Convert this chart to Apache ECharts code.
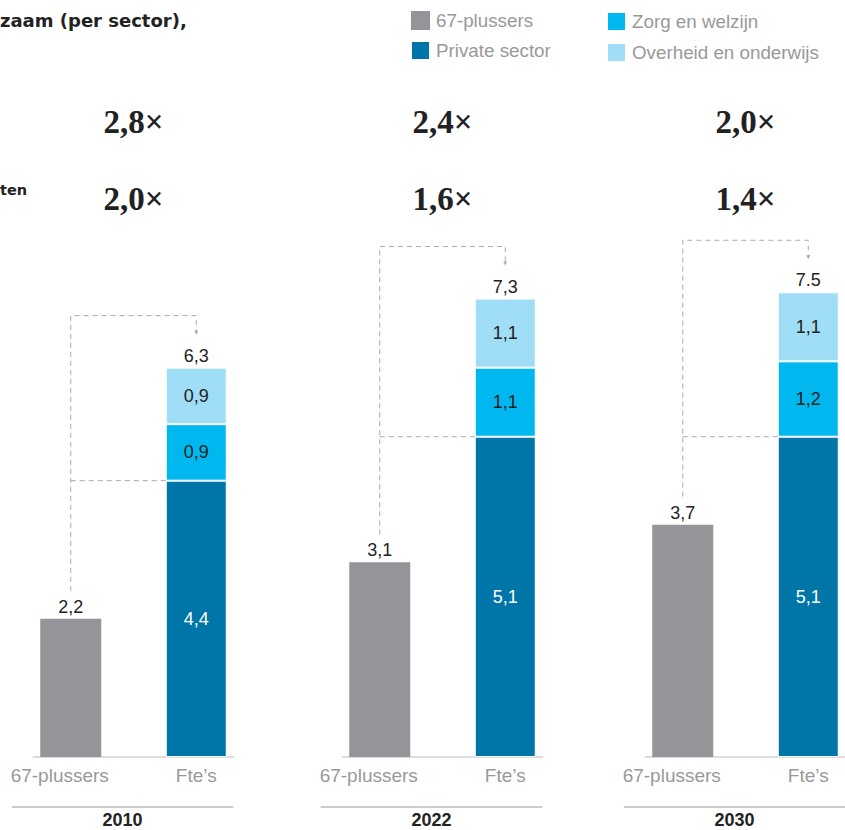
<!DOCTYPE html>
<html>
<head>
<meta charset="utf-8">
<script src="https://cdn.jsdelivr.net/npm/echarts@6/dist/echarts.min.js"></script>
<style>
  html, body { margin: 0; padding: 0; background: #fff; }
  #chart { width: 845px; height: 830px; }
</style>
</head>
<body>
<div id="chart"></div>
<script>
// ---- data ----
const years = ['2010', '2022', '2030'];
const categories = ['67-plussers', 'Fte\u2019s'];
const seniors = [2.2, 3.1, 3.7];
const privateSector = [4.4, 5.1, 5.1];
const careWelfare = [0.9, 1.1, 1.2];
const governmentEducation = [0.9, 1.1, 1.1];
const fteTotalLabels = ['6,3', '7,3', '7.5'];
const ratioAllFte = ['2,8\u00d7', '2,4\u00d7', '2,0\u00d7'];
const ratioPrivateFte = ['2,0\u00d7', '1,6\u00d7', '1,4\u00d7'];
const seriesNames = ['67-plussers', 'Private sector', 'Zorg en welzijn', 'Overheid en onderwijs'];

// ---- style ----
const colors = ['#939598', '#0076a8', '#00b8ef', '#a0ddf6'];
const SANS = '"Liberation Sans", Arial, sans-serif';
const WIDE_SANS = '"DejaVu Sans", "Liberation Sans", sans-serif';
const SERIF = '"Liberation Serif", "DejaVu Serif", serif';
const gridLefts = [8, 317, 620];
const gridWidth = 251;
const BAR_W = 61;

const fmt = v => String(v).replace('.', ',');

const chart = echarts.init(document.getElementById('chart'), null, { renderer: 'svg' });

const grids = [], xAxes = [], yAxes = [], series = [];
years.forEach((y, i) => {
  grids.push({ left: gridLefts[i], width: gridWidth, top: 129, bottom: 73, containLabel: false, outerBoundsMode: 'none' });
  xAxes.push({
    type: 'category', gridIndex: i, data: categories,
    axisLine: { show: false }, axisTick: { show: false },
    axisLabel: {
      interval: 0, hideOverlap: false,
      color: '#999', fontSize: 19, fontFamily: SANS, margin: 9,
      formatter: (v, idx) => idx === 0 ? '{a|' + v + '}' : v,
      rich: { a: { color: '#999', fontSize: 19, fontFamily: SANS, padding: [0, 22, 0, 0] } }
    }
  });
  yAxes.push({ type: 'value', gridIndex: i, min: 0, max: 10, show: false, splitLine: { show: false } });

  const common = { type: 'bar', xAxisIndex: i, yAxisIndex: i, stack: 'panel' + i, barWidth: BAR_W };
  const labelBase = { fontFamily: SANS, fontSize: 18, color: '#222' };
  series.push({
    ...common, name: seriesNames[0], data: [seniors[i], '-'],
    itemStyle: { color: colors[0] },
    label: { show: true, position: 'top', distance: 3, ...labelBase, formatter: p => fmt(p.value) }
  });
  series.push({
    ...common, name: seriesNames[1], data: ['-', privateSector[i]],
    itemStyle: { color: colors[1], borderColor: '#fff', borderWidth: 1 },
    label: { show: true, position: 'inside', ...labelBase, color: '#fff', formatter: p => fmt(p.value) }
  });
  series.push({
    ...common, name: seriesNames[2], data: ['-', careWelfare[i]],
    itemStyle: { color: colors[2], borderColor: '#fff', borderWidth: 1 },
    label: { show: true, position: 'inside', ...labelBase, formatter: p => fmt(p.value) }
  });
  series.push({
    ...common, name: seriesNames[3], data: ['-', governmentEducation[i]],
    itemStyle: { color: colors[3], borderColor: '#fff', borderWidth: 1 },
    label: { show: true, position: 'inside', ...labelBase, formatter: p => fmt(p.value) }
  });
  // total of the Fte stack, written just above the top segment
  series.push({
    ...common, name: 'total' + i, data: ['-', 0],
    itemStyle: { color: 'transparent' },
    label: { show: true, position: 'top', distance: 3, ...labelBase, formatter: () => fteTotalLabels[i] },
    silent: true
  });
});

const legendCommon = {
  orient: 'vertical', top: 11, padding: 0, itemWidth: 19, itemHeight: 19, itemGap: 10,
  icon: 'rect', selectedMode: false,
  textStyle: { color: '#999', fontSize: 18.8, lineHeight: 19, fontFamily: SANS, padding: [0, 0, 0, 1] }
};

chart.setOption({
  animation: false,
  backgroundColor: '#fff',
  color: colors,
  grid: grids,
  xAxis: xAxes,
  yAxis: yAxes,
  legend: [
    { ...legendCommon, left: 410, data: [seriesNames[0], seriesNames[1]] },
    { ...legendCommon, left: 606, data: [seriesNames[2], seriesNames[3]] }
  ],
  series: series
});

// ---- annotations derived from the axes ----
const graphics = [];
const dash = { stroke: '#aaa', lineWidth: 1, lineDash: [5, 4] };

graphics.push({ type: 'text', left: 0, top: 11, style: { text: 'zaam (per sector),', font: 'bold 18px ' + WIDE_SANS, fill: '#222' } });
graphics.push({ type: 'text', left: 0, top: 182, style: { text: 'ten', font: 'bold 14.5px ' + WIDE_SANS, fill: '#222' } });

years.forEach((yr, i) => {
  const px = (c, v) => chart.convertToPixel({ gridIndex: i }, [c, v]);
  const [gx, gy] = px(0, seniors[i]);
  const [fx, base] = px(1, 0);
  const stackTop = privateSector[i] + careWelfare[i] + governmentEducation[i];
  const topY = px(1, stackTop)[1];
  const privY = px(1, privateSector[i])[1];
  const gridCenter = gridLefts[i] + gridWidth / 2;

  // baseline
  graphics.push({ type: 'line', shape: { x1: gx - 38, y1: base, x2: fx + 38, y2: base }, style: { stroke: '#bbb', lineWidth: 1 } });
  // separator + year
  graphics.push({ type: 'line', shape: { x1: gx - 59, y1: 807, x2: fx + 37, y2: 807 }, style: { stroke: '#999', lineWidth: 1 } });
  graphics.push({ type: 'text', x: (gx - 59 + fx + 37) / 2, y: 820, style: { text: yr, font: 'bold 18px ' + SANS, fill: '#222', textAlign: 'center', textVerticalAlign: 'middle' } });

  // ratio headings
  graphics.push({ type: 'text', x: gridCenter, y: 122, style: { text: ratioAllFte[i], font: 'bold 33px ' + SERIF, fill: '#222', textAlign: 'center', textVerticalAlign: 'middle' } });
  graphics.push({ type: 'text', x: gridCenter, y: 199, style: { text: ratioPrivateFte[i], font: 'bold 33px ' + SERIF, fill: '#222', textAlign: 'center', textVerticalAlign: 'middle' } });

  // bracket from seniors bar to the Fte total
  const bracketY = topY - 52;
  graphics.push({ type: 'polyline', shape: { points: [[gx, gy - 28], [gx, bracketY], [fx, bracketY], [fx, bracketY + 17]] }, style: { ...dash, fill: null } });
  graphics.push({ type: 'polygon', shape: { points: [[fx - 2, bracketY + 15], [fx + 2, bracketY + 15], [fx, bracketY + 19]] }, style: { fill: '#aaa' } });
  // private sector level
  graphics.push({ type: 'line', shape: { x1: gx, y1: privY, x2: fx - BAR_W / 2, y2: privY }, style: dash });
});

chart.setOption({ graphic: graphics });
</script>
</body>
</html>
